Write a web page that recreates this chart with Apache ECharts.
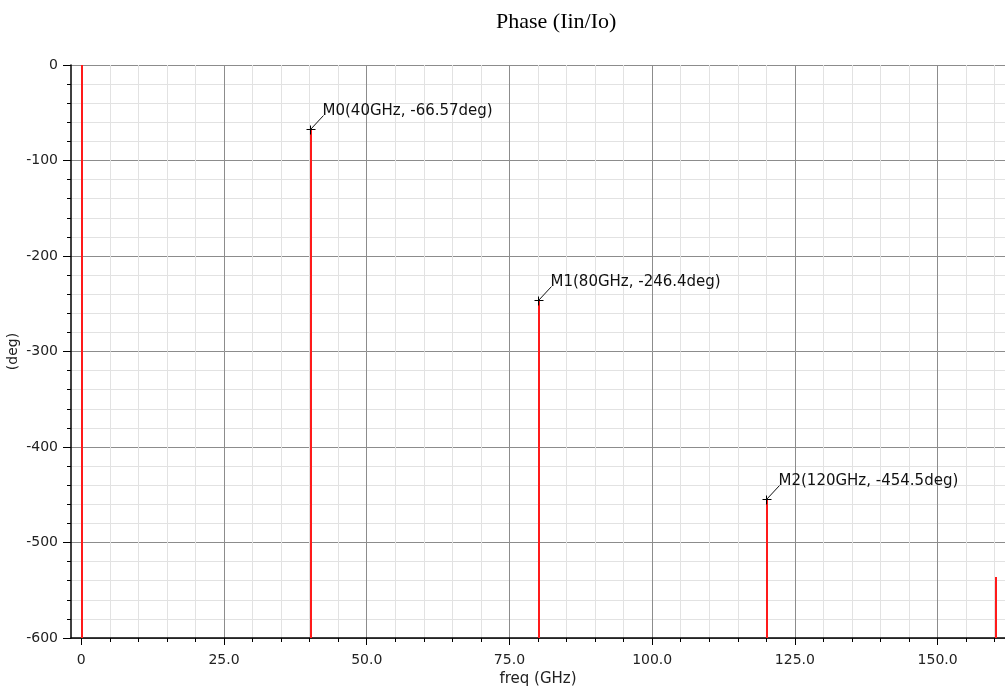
<!DOCTYPE html>
<html>
<head>
<meta charset="utf-8">
<script src="https://cdn.jsdelivr.net/npm/echarts@6/dist/echarts.min.js"></script>
<style>
    html, body { margin: 0; padding: 0; background: #fff; }
    #chart { width: 1005px; height: 686px; }
</style>
</head>
<body>
<div id="chart"></div>
<script>
    // 数据
    var freqs = [0, 40, 80, 120, 160];
    var phases = [0, -66.57, -246.4, -454.5, -536];
    var markerFreqs = [40, 80, 120];
    var markerPhases = [-66.57, -246.4, -454.5];
    var xMajorTicks = [0, 25, 50, 75, 100, 125, 150];
    var xMinorTicks = [0, 5, 10, 15, 20, 25, 30, 35, 40, 45, 50, 55, 60, 65, 70, 75, 80, 85, 90, 95,
        100, 105, 110, 115, 120, 125, 130, 135, 140, 145, 150, 155, 160];

    var FONT = 'DejaVu Sans';
    var yMin = -600;

    var markerLabels = [];
    for (var i = 0; i < markerFreqs.length; i++) {
        markerLabels.push('M' + i + '(' + markerFreqs[i] + 'GHz, ' + markerPhases[i] + 'deg)');
    }

    var stemData = [];
    for (var j = 0; j < freqs.length; j++) {
        stemData.push([freqs[j], phases[j]]);
    }
    var markerData = [];
    for (var k = 0; k < markerFreqs.length; k++) {
        markerData.push([markerFreqs[k], markerPhases[k]]);
    }

    function crisp(v) {
        return Math.round(v) + 0.5;
    }

    // 竖线
    function renderStem(params, api) {
        var top = api.coord([api.value(0), api.value(1)]);
        var bottom = api.coord([api.value(0), yMin]);
        var x = Math.round(top[0]) + 1;
        return {
            type: 'line',
            shape: {x1: x, y1: top[1], x2: x, y2: bottom[1]},
            style: {stroke: '#ff1a1a', lineWidth: 2}
        };
    }

    // 标记点
    function renderMarker(params, api) {
        var p = api.coord([api.value(0), api.value(1)]);
        var x = crisp(p[0]);
        var y = crisp(p[1]);
        var s = 4;
        return {
            type: 'group',
            children: [
                {type: 'line', shape: {x1: x - s, y1: y, x2: x + s + 1, y2: y}, style: {stroke: '#000', lineWidth: 1}},
                {type: 'line', shape: {x1: x, y1: y - s, x2: x, y2: y + s + 1}, style: {stroke: '#000', lineWidth: 1}},
                {type: 'line', shape: {x1: x, y1: y, x2: x + 13, y2: y - 14}, style: {stroke: '#111', lineWidth: 1}},
                {
                    type: 'text', x: x + 12, y: y - 18,
                    style: {
                        text: markerLabels[params.dataIndex],
                        font: '15px "' + FONT + '"',
                        fill: '#111',
                        align: 'left',
                        verticalAlign: 'middle'
                    }
                }
            ]
        };
    }

    var myChart = echarts.init(document.getElementById('chart'), null, {renderer: 'canvas'});
    var option = {
        backgroundColor: '#fff',
        animation: false,
        title: {
            text: 'Phase (Iin/Io)',
            left: 491,
            top: 6,
            textStyle: {
                fontFamily: 'Liberation Serif',
                fontWeight: 'normal',
                fontSize: 22,
                color: '#000'
            }
        },
        grid: {
            left: 71,
            right: 0,
            top: 65,
            bottom: 48,
            containLabel: false,
            outerBoundsMode: 'none'
        },
        xAxis: [
            {
                // 次刻度 / 次网格
                type: 'value',
                min: -1.8,
                max: 161.8,
                position: 'bottom',
                axisLine: {show: false, onZero: false},
                axisTick: {
                    show: true,
                    customValues: xMinorTicks,
                    length: 4,
                    lineStyle: {color: '#000'}
                },
                axisLabel: {show: false},
                splitLine: {show: true, lineStyle: {color: '#e2e2e2', width: 1}}
            },
            {
                // 主刻度 / 主网格
                type: 'value',
                min: -1.8,
                max: 161.8,
                position: 'bottom',
                name: 'freq (GHz)',
                nameLocation: 'middle',
                nameGap: 30,
                nameTextStyle: {fontFamily: FONT, fontSize: 15, color: '#222'},
                axisLine: {show: true, onZero: false, lineStyle: {color: '#000', width: 1.5}},
                axisTick: {
                    show: true,
                    customValues: xMajorTicks,
                    length: 7,
                    lineStyle: {color: '#000'}
                },
                axisLabel: {
                    show: true,
                    customValues: xMajorTicks,
                    margin: 15,
                    fontFamily: FONT,
                    fontSize: 14,
                    color: '#222',
                    formatter: function (v) {
                        return v === 0 ? '0' : v.toFixed(1);
                    }
                },
                splitLine: {show: true, lineStyle: {color: '#8c8c8c', width: 1}}
            }
        ],
        yAxis: {
            type: 'value',
            min: -600,
            max: 0,
            interval: 100,
            name: '(deg)',
            nameLocation: 'middle',
            nameGap: 51,
            nameMoveOverlap: false,
            nameRotate: 90,
            nameTextStyle: {fontFamily: FONT, fontSize: 14, color: '#222'},
            axisLine: {show: true, onZero: false, lineStyle: {color: '#000', width: 1.5}},
            axisTick: {show: true, length: 8, lineStyle: {color: '#000'}},
            minorTick: {show: true, splitNumber: 5, length: 4, lineStyle: {color: '#000'}},
            axisLabel: {
                margin: 13,
                fontFamily: FONT,
                fontSize: 14,
                color: '#222'
            },
            splitLine: {show: true, lineStyle: {color: '#8c8c8c', width: 1}},
            minorSplitLine: {show: true, lineStyle: {color: '#e2e2e2', width: 1}}
        },
        series: [
            {
                name: 'stems',
                type: 'custom',
                xAxisIndex: 0,
                renderItem: renderStem,
                data: stemData,
                z: 5
            },
            {
                name: 'markers',
                type: 'custom',
                xAxisIndex: 0,
                renderItem: renderMarker,
                data: markerData,
                z: 6
            }
        ]
    };
    option && myChart.setOption(option);
</script>
</body>
</html>
